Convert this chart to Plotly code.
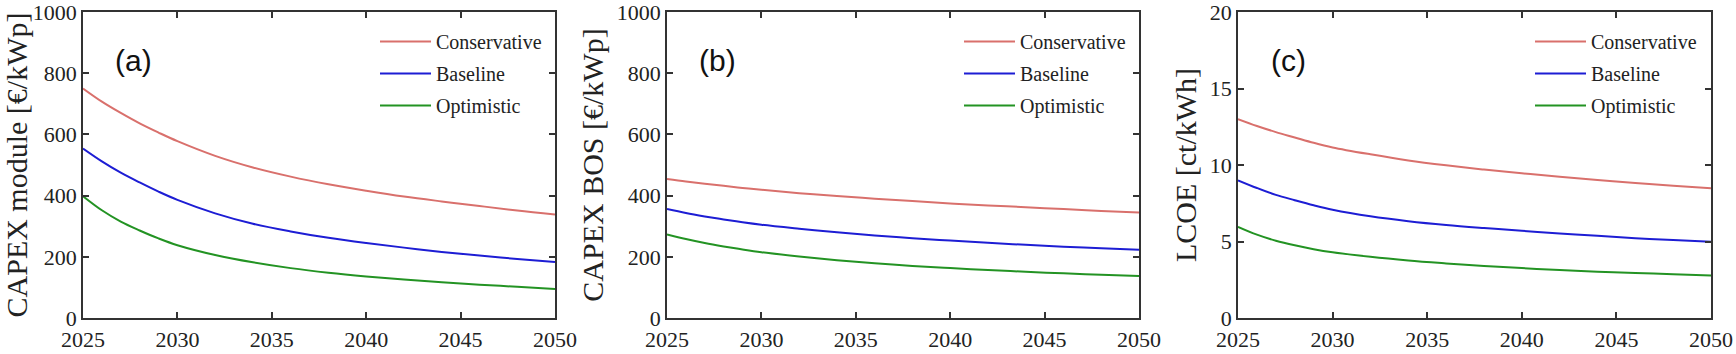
import plotly.graph_objects as go

# --- data ---
years = [2025, 2026, 2027, 2028, 2029, 2030, 2032, 2034, 2036, 2038, 2040, 2042, 2044, 2046, 2048, 2050]

module_conservative = [750, 707, 670, 636, 606, 578, 530, 492, 462, 437, 416, 397, 381, 366, 351, 338]
module_baseline = [554, 512, 475, 443, 413, 386, 342, 308, 283, 262, 245, 230, 216, 204, 193, 183]
module_optimistic = [398, 352, 315, 286, 260, 238, 206, 182, 163, 148, 136, 126, 117, 109, 102, 95]

bos_conservative = [454, 446, 439, 432, 425, 419, 408, 399, 390, 382, 374, 368, 362, 356, 350, 345]
bos_baseline = [356, 343, 332, 322, 313, 305, 292, 280, 270, 261, 253, 246, 239, 233, 228, 223]
bos_optimistic = [273, 258, 245, 234, 224, 215, 201, 189, 179, 170, 163, 157, 151, 146, 141, 137]

lcoe_conservative = [13.0, 12.55, 12.15, 11.8, 11.45, 11.15, 10.7, 10.3, 9.98, 9.7, 9.46, 9.24, 9.02, 8.82, 8.64, 8.48]
lcoe_baseline = [9.0, 8.5, 8.05, 7.7, 7.37, 7.08, 6.65, 6.33, 6.08, 5.88, 5.7, 5.53, 5.37, 5.22, 5.09, 4.98]
lcoe_optimistic = [5.96, 5.45, 5.05, 4.75, 4.5, 4.3, 4.0, 3.76, 3.57, 3.4, 3.26, 3.14, 3.03, 2.94, 2.86, 2.78]

scenarios = ["Conservative", "Baseline", "Optimistic"]
colors = {"Conservative": "#d9706c", "Baseline": "#1d1dd4", "Optimistic": "#239323"}

panels = [
    ("(a)", "CAPEX module [€/kWp]", [module_conservative, module_baseline, module_optimistic], [0, 1000], 200),
    ("(b)", "CAPEX BOS [€/kWp]", [bos_conservative, bos_baseline, bos_optimistic], [0, 1000], 200),
    ("(c)", "LCOE [ct/kWh]", [lcoe_conservative, lcoe_baseline, lcoe_optimistic], [0, 20], 5),
]

W, H = 1736, 354
x_px = [(83, 555), (667, 1139), (1238, 1711)]
title_gap = [17, 4, 4]
y_dom = [1 - 318 / H, 1 - 12 / H]
serif = "Liberation Serif, Times New Roman, serif"

fig = go.Figure()
layout = dict(
    width=W, height=H,
    margin=dict(l=0, r=0, t=0, b=0, autoexpand=False),
    paper_bgcolor="white", plot_bgcolor="white",
    font=dict(family=serif, color="#222"),
    showlegend=True,
)
annotations = []

for i, (tag, ytitle, series, yrange, ydt) in enumerate(panels):
    n = "" if i == 0 else str(i + 1)
    leg = "legend" + n
    for name, vals in zip(scenarios, series):
        fig.add_trace(go.Scatter(
            x=years, y=vals, mode="lines", name=name,
            line=dict(color=colors[name], width=2, shape="spline"),
            xaxis="x" + n, yaxis="y" + n, legend=leg, legendgroup=name + n,
        ))
    x0, x1 = x_px[i]
    axis_common = dict(
        showline=True, linecolor="#333", linewidth=1.5, mirror="allticks",
        ticks="inside", ticklen=6, tickwidth=1.5, tickcolor="#333",
        showgrid=False, zeroline=False, automargin=False, ticklabeloverflow="allow",
        tickfont=dict(family=serif, size=22, color="#222"),
    )
    layout["xaxis" + n] = dict(
        axis_common, domain=[x0 / W, x1 / W], range=[2025, 2050], dtick=5,
        anchor="y" + n, ticklabelstandoff=1,
    )
    layout["yaxis" + n] = dict(
        axis_common, domain=y_dom, range=yrange, dtick=ydt, anchor="x" + n,
        title=dict(text=ytitle, font=dict(family=serif, size=30, color="#222"), standoff=title_gap[i]),
    )
    layout[leg] = dict(
        x=(x0 + 292) / W, xanchor="left", y=1 - 22 / H, yanchor="top",
        bgcolor="rgba(0,0,0,0)", font=dict(family=serif, size=20, color="#222"),
        itemwidth=51, tracegroupgap=3,
    )
    annotations.append(dict(
        text=tag, xref="x" + n + " domain", yref="y" + n + " domain",
        x=0.106, y=0.843, xanchor="center", yanchor="middle", showarrow=False,
        font=dict(family="Liberation Sans, Arial, sans-serif", size=30, color="#111"),
    ))

layout["annotations"] = annotations
fig.update_layout(**layout)
# drop the browser's default 8px body margin so the figure starts at the window corner
fig.write_html(
    "out.html",
    config={"displayModeBar": False},
    post_script="document.body.style.margin='0';document.documentElement.style.overflow='hidden';",
)
